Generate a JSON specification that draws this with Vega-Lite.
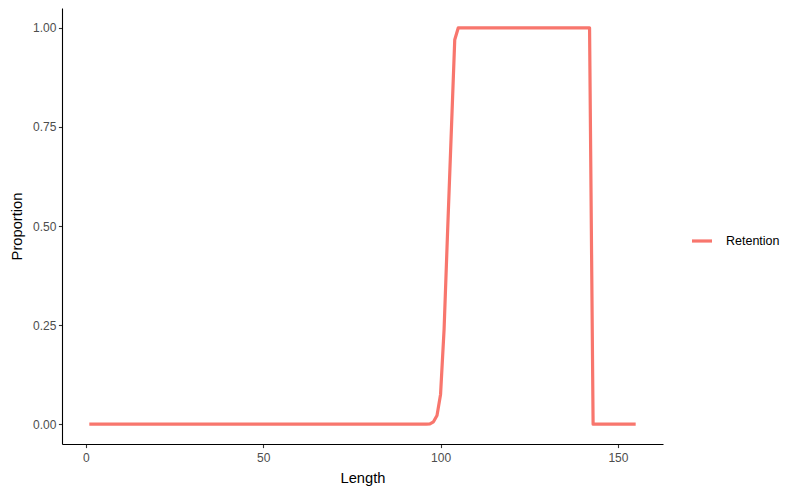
{
  "$schema": "https://vega.github.io/schema/vega-lite/v6.json",
  "width": 601,
  "height": 436,
  "autosize": {"type": "none"},
  "padding": {"left": 62, "top": 8, "right": 137, "bottom": 50},
  "background": "white",
  "config": {
    "view": {"stroke": null},
    "font": "Liberation Sans"
  },
  "data": {"values": [
    {"Length":1,"Proportion":0},{"Length":2,"Proportion":0},{"Length":3,"Proportion":0},{"Length":4,"Proportion":0},{"Length":5,"Proportion":0},
    {"Length":6,"Proportion":0},{"Length":7,"Proportion":0},{"Length":8,"Proportion":0},{"Length":9,"Proportion":0},{"Length":10,"Proportion":0},
    {"Length":11,"Proportion":0},{"Length":12,"Proportion":0},{"Length":13,"Proportion":0},{"Length":14,"Proportion":0},{"Length":15,"Proportion":0},
    {"Length":16,"Proportion":0},{"Length":17,"Proportion":0},{"Length":18,"Proportion":0},{"Length":19,"Proportion":0},{"Length":20,"Proportion":0},
    {"Length":21,"Proportion":0},{"Length":22,"Proportion":0},{"Length":23,"Proportion":0},{"Length":24,"Proportion":0},{"Length":25,"Proportion":0},
    {"Length":26,"Proportion":0},{"Length":27,"Proportion":0},{"Length":28,"Proportion":0},{"Length":29,"Proportion":0},{"Length":30,"Proportion":0},
    {"Length":31,"Proportion":0},{"Length":32,"Proportion":0},{"Length":33,"Proportion":0},{"Length":34,"Proportion":0},{"Length":35,"Proportion":0},
    {"Length":36,"Proportion":0},{"Length":37,"Proportion":0},{"Length":38,"Proportion":0},{"Length":39,"Proportion":0},{"Length":40,"Proportion":0},
    {"Length":41,"Proportion":0},{"Length":42,"Proportion":0},{"Length":43,"Proportion":0},{"Length":44,"Proportion":0},{"Length":45,"Proportion":0},
    {"Length":46,"Proportion":0},{"Length":47,"Proportion":0},{"Length":48,"Proportion":0},{"Length":49,"Proportion":0},{"Length":50,"Proportion":0},
    {"Length":51,"Proportion":0},{"Length":52,"Proportion":0},{"Length":53,"Proportion":0},{"Length":54,"Proportion":0},{"Length":55,"Proportion":0},
    {"Length":56,"Proportion":0},{"Length":57,"Proportion":0},{"Length":58,"Proportion":0},{"Length":59,"Proportion":0},{"Length":60,"Proportion":0},
    {"Length":61,"Proportion":0},{"Length":62,"Proportion":0},{"Length":63,"Proportion":0},{"Length":64,"Proportion":0},{"Length":65,"Proportion":0},
    {"Length":66,"Proportion":0},{"Length":67,"Proportion":0},{"Length":68,"Proportion":0},{"Length":69,"Proportion":0},{"Length":70,"Proportion":0},
    {"Length":71,"Proportion":0},{"Length":72,"Proportion":0},{"Length":73,"Proportion":0},{"Length":74,"Proportion":0},{"Length":75,"Proportion":0},
    {"Length":76,"Proportion":0},{"Length":77,"Proportion":0},{"Length":78,"Proportion":0},{"Length":79,"Proportion":0},{"Length":80,"Proportion":0},
    {"Length":81,"Proportion":0},{"Length":82,"Proportion":0},{"Length":83,"Proportion":0},{"Length":84,"Proportion":0},{"Length":85,"Proportion":0},
    {"Length":86,"Proportion":0},{"Length":87,"Proportion":0},{"Length":88,"Proportion":0},{"Length":89,"Proportion":0},{"Length":90,"Proportion":0},
    {"Length":91,"Proportion":0},{"Length":92,"Proportion":0},{"Length":93,"Proportion":0},{"Length":94,"Proportion":0},{"Length":95,"Proportion":0},
    {"Length":96,"Proportion":0},{"Length":97,"Proportion":0.001},{"Length":98,"Proportion":0.006},{"Length":99,"Proportion":0.022},{"Length":100,"Proportion":0.075},
    {"Length":101,"Proportion":0.24},{"Length":102,"Proportion":0.49},{"Length":103,"Proportion":0.73},{"Length":104,"Proportion":0.97},{"Length":105,"Proportion":1},
    {"Length":106,"Proportion":1},{"Length":107,"Proportion":1},{"Length":108,"Proportion":1},{"Length":109,"Proportion":1},{"Length":110,"Proportion":1},
    {"Length":111,"Proportion":1},{"Length":112,"Proportion":1},{"Length":113,"Proportion":1},{"Length":114,"Proportion":1},{"Length":115,"Proportion":1},
    {"Length":116,"Proportion":1},{"Length":117,"Proportion":1},{"Length":118,"Proportion":1},{"Length":119,"Proportion":1},{"Length":120,"Proportion":1},
    {"Length":121,"Proportion":1},{"Length":122,"Proportion":1},{"Length":123,"Proportion":1},{"Length":124,"Proportion":1},{"Length":125,"Proportion":1},
    {"Length":126,"Proportion":1},{"Length":127,"Proportion":1},{"Length":128,"Proportion":1},{"Length":129,"Proportion":1},{"Length":130,"Proportion":1},
    {"Length":131,"Proportion":1},{"Length":132,"Proportion":1},{"Length":133,"Proportion":1},{"Length":134,"Proportion":1},{"Length":135,"Proportion":1},
    {"Length":136,"Proportion":1},{"Length":137,"Proportion":1},{"Length":138,"Proportion":1},{"Length":139,"Proportion":1},{"Length":140,"Proportion":1},
    {"Length":141,"Proportion":1},{"Length":142,"Proportion":1},{"Length":143,"Proportion":0},{"Length":144,"Proportion":0},{"Length":145,"Proportion":0},
    {"Length":146,"Proportion":0},{"Length":147,"Proportion":0},{"Length":148,"Proportion":0},{"Length":149,"Proportion":0},{"Length":150,"Proportion":0},
    {"Length":151,"Proportion":0},{"Length":152,"Proportion":0},{"Length":153,"Proportion":0},{"Length":154,"Proportion":0},{"Length":155,"Proportion":0}
  ]},
  "mark": {"type": "line", "strokeWidth": 3.2, "strokeJoin": "round", "strokeCap": "butt"},
  "encoding": {
    "x": {
      "field": "Length", "type": "quantitative",
      "scale": {"domain": [-6.7, 162.7], "nice": false, "zero": false},
      "axis": {
        "values": [0, 50, 100, 150], "grid": false, "title": "Length",
        "domainColor": "black", "domainWidth": 1.1, "tickColor": "#333333", "tickWidth": 1.1, "tickSize": 3.6,
        "labelColor": "#4D4D4D", "labelFontSize": 12, "labelPadding": 4.5, "labelFont": "Liberation Sans",
        "titleFontSize": 14.7, "titleFontWeight": "normal", "titleColor": "black", "titlePadding": 7, "titleFont": "Liberation Sans"
      }
    },
    "y": {
      "field": "Proportion", "type": "quantitative",
      "scale": {"domain": [-0.05, 1.05], "nice": false, "zero": false},
      "axis": {
        "values": [0, 0.25, 0.5, 0.75, 1], "format": ".2f", "grid": false, "title": "Proportion",
        "domainColor": "black", "domainWidth": 1.1, "tickColor": "#333333", "tickWidth": 1.1, "tickSize": 3.6,
        "labelColor": "#4D4D4D", "labelFontSize": 12, "labelPadding": 2.5, "labelFont": "Liberation Sans",
        "titleFontSize": 14.7, "titleFontWeight": "normal", "titleColor": "black", "titlePadding": 8, "titleFont": "Liberation Sans"
      }
    },
    "color": {
      "datum": "Retention", "type": "nominal",
      "scale": {"range": ["#F8766D"]},
      "legend": {
        "title": null, "orient": "none", "legendX": 628, "legendY": 221,
        "symbolType": "stroke", "symbolSize": 400, "symbolStrokeWidth": 3.2,
        "labelFontSize": 12.5, "labelColor": "black", "labelFont": "Liberation Sans", "labelOffset": 12
      }
    }
  }
}
